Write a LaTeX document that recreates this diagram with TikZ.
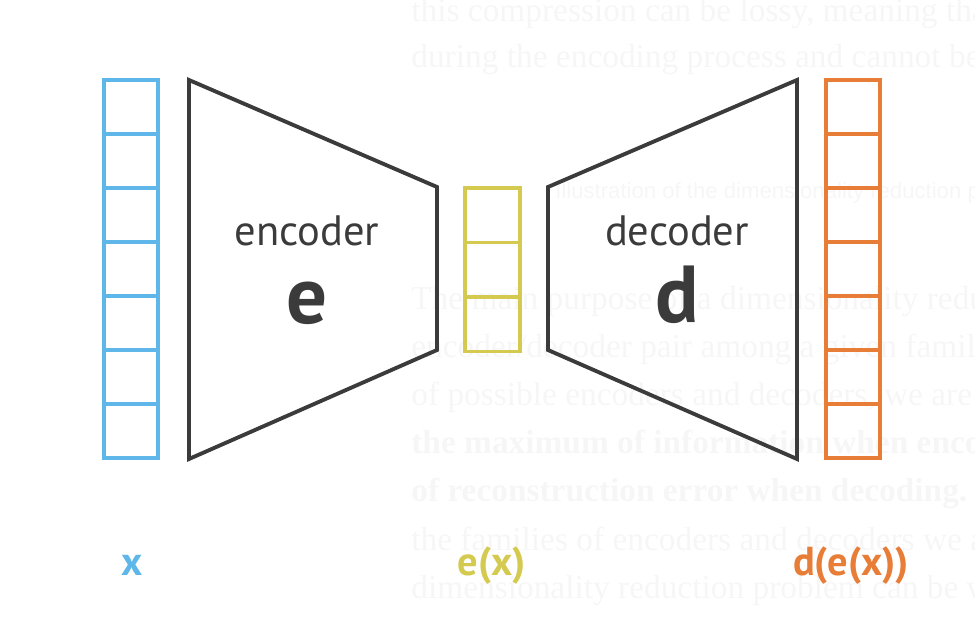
\documentclass[tikz,border=0pt]{standalone}
\usepackage{fontspec}
\setmainfont{Liberation Serif}
\setsansfont{PT Sans}
\newfontfamily\capfont{Liberation Sans}
\usepackage{tikz}
\usetikzlibrary{positioning}
\definecolor{vecblue}{RGB}{94,183,232}
\definecolor{codeyellow}{RGB}{212,202,79}
\definecolor{outorange}{RGB}{232,125,55}
\definecolor{netgray}{RGB}{59,59,59}
\definecolor{pagetext}{RGB}{246,246,246}

\begin{document}
\begin{tikzpicture}[
    x=0.02cm, y=-0.02cm,
    cell/.style={line width=2.2pt},
    net/.style={line width=2.2pt, draw=netgray, line join=miter},
    netname/.style={font=\sffamily\fontsize{24.2}{28}\selectfont, text=netgray, anchor=base, inner sep=0pt},
    netsym/.style={font=\sffamily\bfseries\fontsize{46}{50}\selectfont, text=netgray, anchor=base, inner sep=0pt},
    veclabel/.style={font=\sffamily\bfseries\fontsize{23}{26}\selectfont, anchor=base, inner sep=0pt},
    page/.style={font=\fontsize{19}{22}\selectfont, text=pagetext, anchor=base west, inner sep=0pt},
    pagebold/.style={page, font=\bfseries\fontsize{19}{22}\selectfont}
]
\useasboundingbox (0,0) rectangle (975,622);
\clip (0,0) rectangle (975,622);

\node[page] (p1) at (411,21) {this compression can be lossy, meaning that some information is lost};
\node[page] (p2) at (411,68) {during the encoding process and cannot be recovered};
\node[page, font=\capfont\fontsize{12.6}{14}\selectfont] (cap) at (555,198) {Illustration of the dimensionality reduction principle};
\node[page] (p3) at (411,309) {The main purpose of a dimensionality reduction};
\node[page] (p4) at (411,357) {encoder/decoder pair among a given family};
\node[page] (p5) at (411,405) {of possible encoders and decoders, we are looking};
\node[pagebold] (p6) at (411,453) {the maximum of information when encoding};
\node[pagebold] (p7) at (411,501) {of reconstruction error when decoding.};
\node[page] (p8) at (411,550) {the families of encoders and decoders we are};
\node[page] (p9) at (411,598) {dimensionality reduction problem can be written};

\foreach \i in {0,...,6} {
    \draw[cell, vecblue] (104,80+54*\i) rectangle ++(54,54);
    \draw[cell, outorange] (826,80+54*\i) rectangle ++(54,54);
}
\foreach \i in {0,1,2} {
    \draw[cell, codeyellow] (465,188+54.5*\i) rectangle ++(55,54.5);
}

\draw[net] (189,80) -- (437,187) -- (437,350) -- (189,459) -- cycle;
\draw[net] (548,187) -- (797,80) -- (797,459) -- (548,350) -- cycle;

\node[netname] (enc) at (307,245) {encoder};
\node[netsym] (encsym) at (307,323) {e};
\node[netname] (dec) at (677,245) {decoder};
\node[netsym] (decsym) at (677,322) {d};

\node[veclabel, text=vecblue] (lx) at (132,575) {x};
\node[veclabel, text=codeyellow] (lex) at (492,575) {e(x)};
\node[veclabel, text=outorange] (ldex) at (851,575) {d(e(x))};
\end{tikzpicture}
\end{document}
